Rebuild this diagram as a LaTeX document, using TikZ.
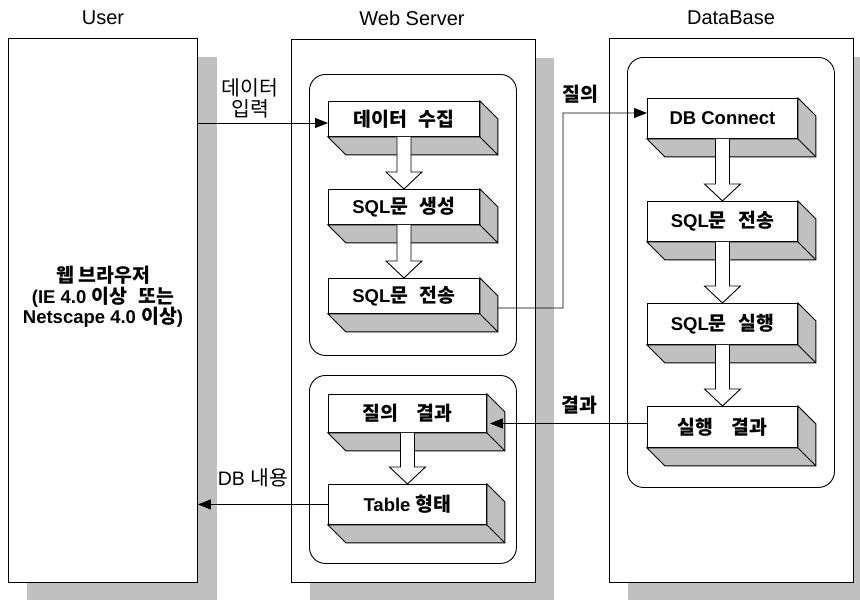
\documentclass[tikz,border=0pt]{standalone}
\usepackage{fontspec}
\setmainfont{Liberation Sans}
\newfontfamily\kr[Scale=1.05]{Noto Sans CJK KR}
\usetikzlibrary{arrows.meta,calc,backgrounds}
\definecolor{shadowgray}{HTML}{C0C0C0}
\newcommand\K[1]{{\kr #1}}
\newcommand\extrude[1]{%
  \filldraw[extr] (#1.north east) -- ++(18,18) -- ($(#1.south east)+(18,18)$)
    -- ($(#1.south west)+(18,18)$) -- (#1.south west) -- (#1.south east) -- cycle;
  \draw[extr] (#1.south east) -- ++(18,18);}
\newcommand\hollow[2]{%
  \filldraw[hollowar] let \p1=(#1.south), \p2=(#2.north) in
    (\x1-7pt,\y1) -- (\x1-7pt,\y2+17pt) -- (\x1-18pt,\y2+17pt) -- (\x1,\y2)
    -- (\x1+18pt,\y2+17pt) -- (\x1+7pt,\y2+17pt) -- (\x1+7pt,\y1);}
\tikzset{
  outerbox/.style={draw, fill=white, line width=0.9pt, anchor=north west, inner sep=0pt},
  roundbox/.style={draw, line width=0.9pt, rounded corners=16pt, anchor=north west, inner sep=0pt},
  face/.style={draw, fill=white, line width=0.9pt, anchor=north west, inner sep=0pt,
    font=\fontsize{18.5}{22}\selectfont\bfseries},
  extr/.style={fill=shadowgray, draw=black, line width=0.9pt, line join=miter},
  hollowar/.style={fill=white, draw=black, line width=0.9pt},
  conn/.style={line width=0.9pt},
  tip/.style={-{Triangle[length=13pt,width=10pt]}},
  title/.style={font=\fontsize{20}{24}\selectfont},
  lbl/.style={font=\fontsize{19.5}{21}\selectfont, align=center},
  blbl/.style={font=\fontsize{18.5}{22}\selectfont\bfseries},
}
\begin{document}
\begin{tikzpicture}[x=1pt,y=-1pt]
\useasboundingbox (0,0) rectangle (860,600);
% titles
\node[title] (tuser) at (103,18) {User};
\node[title] (tweb) at (412,18) {Web Server};
\node[title] (tdb) at (731,18) {DataBase};
% outer boxes
\node[outerbox, minimum width=189pt, minimum height=544pt] (user) at (8,38) {};
\node[outerbox, minimum width=244pt, minimum height=543pt] (web) at (291,39) {};
\node[outerbox, minimum width=244pt, minimum height=544pt] (db) at (609,38) {};
\begin{scope}[on background layer]
  \clip (0,0) rectangle (860,600);
  \fill[shadowgray] ($(user.north west)+(19,19)$) rectangle ($(user.south east)+(19,18)$);
  \fill[shadowgray] ($(web.north west)+(19,19)$) rectangle ($(web.south east)+(18,18)$);
  \fill[shadowgray] ($(db.north west)+(19,19)$) rectangle ($(db.south east)+(19,18)$);
\end{scope}
\node[font=\fontsize{18.5}{20.5}\selectfont\bfseries, align=center] (utext) at (103,297)
  {\K{웹 브라우저}\\(IE 4.0 \K{이상}\hspace{0.6em}\K{또는}\\Netscape 4.0 \K{이상})};
% inner rounded boxes
\node[roundbox, minimum width=207pt, minimum height=281pt] (wr1) at (309,74) {};
\node[roundbox, minimum width=207pt, minimum height=188pt] (wr2) at (309,375) {};
\node[roundbox, minimum width=207pt, minimum height=430pt] (dr) at (627,57) {};
% 3D boxes web server
\node[face, minimum width=151pt, minimum height=35pt] (A) at (328,101) {\K{데이터\hspace{0.6em}수집}};
\node[face, minimum width=151pt, minimum height=35pt] (B) at (328,189) {SQL\K{문\hspace{0.6em}생성}};
\node[face, minimum width=151pt, minimum height=35pt] (C) at (328,278) {SQL\K{문\hspace{0.6em}전송}};
\node[face, minimum width=158pt, minimum height=38pt] (D) at (328,394) {\K{질의\hspace{0.9em}결과}};
\node[face, minimum width=158pt, minimum height=40pt] (E) at (328,484) {Table \K{형태}};
% 3D boxes database
\node[face, minimum width=150pt, minimum height=40pt] (F) at (647,98) {DB Connect};
\node[face, minimum width=150pt, minimum height=40pt] (G) at (647,201) {SQL\K{문\hspace{0.6em}전송}};
\node[face, minimum width=150pt, minimum height=41pt] (H) at (647,303) {SQL\K{문\hspace{0.6em}실행}};
\node[face, minimum width=150pt, minimum height=41pt] (I) at (647,406) {\K{실행\hspace{0.9em}결과}};
\foreach \n in {A,B,C,D,E,F,G,H,I} {\extrude{\n}}
% hollow arrows
\hollow{A}{B}
\hollow{B}{C}
\hollow{D}{E}
\hollow{F}{G}
\hollow{G}{H}
\hollow{H}{I}
% connectors
\coordinate (cs) at ($(C.east)+(18,12)$);
\coordinate (cm1) at (563,308);
\coordinate (cm2) at (563,113);
\coordinate (de) at ($(D.east)+(3,10)$);
\draw[conn, tip] (user.east |- 0,123) -- (A.west |- 0,123);
\draw[conn, tip] (cs) -- (cm1) -- (cm2) -- (F.west |- cm2);
\draw[conn, tip] (I.west |- de) -- (de);
\draw[conn, tip] (E.west) -- (user.east |- E.west);
% labels
\node[lbl] (l1) at (250,98) {\K{데이터}\\\K{입력}};
\node[blbl] (l2) at (580,94) {\K{질의}};
\node[blbl] (l3) at (579,405) {\K{결과}};
\node[lbl] (l4) at (253,478) {DB \K{내용}};
\end{tikzpicture}
\end{document}
